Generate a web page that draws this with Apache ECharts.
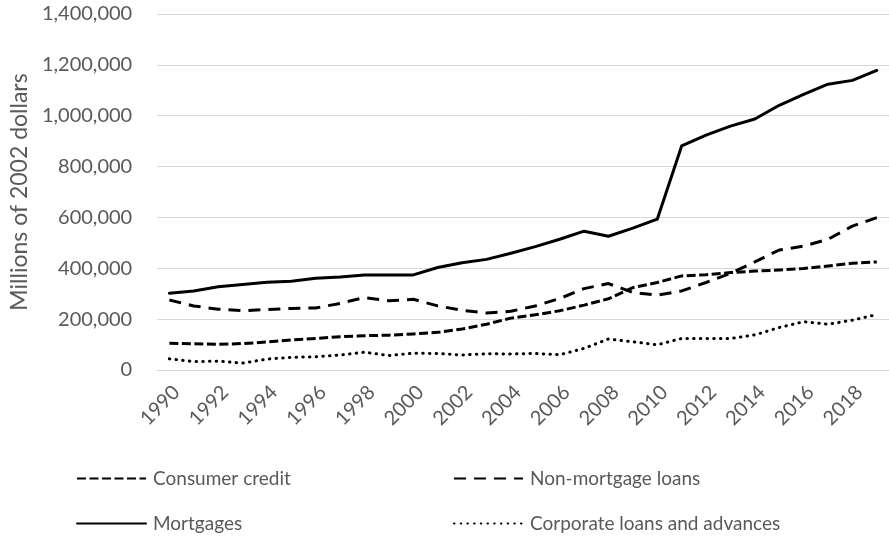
<!DOCTYPE html>
<html>
<head>
<meta charset="utf-8">
<script src="https://cdn.jsdelivr.net/npm/echarts@6/dist/echarts.min.js"></script>
<style>
  html, body { margin: 0; padding: 0; background: #fff; }
  #chart { width: 889px; height: 540px; }
</style>
</head>
<body>
<div id="chart"></div>
<script>
// Household and corporate borrowing, millions of 2002 dollars
const years = ['1990','1991','1992','1993','1994','1995','1996','1997','1998','1999',
               '2000','2001','2002','2003','2004','2005','2006','2007','2008','2009',
               '2010','2011','2012','2013','2014','2015','2016','2017','2018','2019'];

const consumerCredit = [105000,103000,101000,104000,110000,118000,124000,131000,135000,137000,
                        142000,148000,161000,180000,204000,217000,233000,255000,280000,324000,
                        344000,370000,375000,383000,389000,393000,399000,409000,420000,425000];

const nonMortgageLoans = [275000,252000,239000,233000,238000,242000,244000,262000,285000,272000,
                          278000,252000,235000,224000,231000,252000,281000,320000,340000,305000,
                          294000,311000,344000,380000,425000,472000,487000,514000,566000,599000];

const mortgages = [302000,311000,327000,336000,345000,349000,361000,366000,374000,374000,
                   374000,403000,422000,435000,459000,485000,514000,546000,526000,558000,
                   593000,881000,924000,959000,987000,1041000,1084000,1124000,1139000,1178000];

const corporateLoans = [44000,33000,35000,27000,43000,50000,52000,59000,70000,57000,
                        66000,65000,59000,64000,63000,65000,60000,85000,122000,111000,
                        99000,124000,124000,124000,138000,167000,190000,180000,196000,218000];

const FONT = 'Lato';
const GREY = '#595959';

function lineSeries(name, data, type, cap) {
  return {
    name: name,
    type: 'line',
    data: data,
    symbol: 'none',
    smooth: false,
    lineStyle: { color: '#000', width: 3, type: type, cap: cap || 'butt', join: 'round' },
    itemStyle: { color: '#000' }
  };
}

// one legend block per entry, laid out as a 2 x 2 table
function legendAt(name, left, top) {
  return {
    data: [name],
    left: left,
    top: top,
    itemWidth: 69,
    itemHeight: 14,
    itemGap: 0,
    padding: 0,
    selectedMode: false,
    itemStyle: { opacity: 0 },
    textStyle: { fontFamily: FONT, fontSize: 19, color: GREY, padding: [0, 0, 0, 2] }
  };
}

const chart = echarts.init(document.getElementById('chart'), null, { renderer: 'canvas' });
chart.setOption({
  animation: false,
  backgroundColor: '#fff',
  textStyle: { fontFamily: FONT },
  grid: { left: 157, right: 0, top: 14, bottom: 170, containLabel: false },
  legend: [
    legendAt('Consumer credit', 76, 469),
    legendAt('Non-mortgage loans', 453, 469),
    legendAt('Mortgages', 76, 514),
    legendAt('Corporate loans and advances', 453, 514)
  ],
  xAxis: {
    type: 'category',
    data: years,
    boundaryGap: true,
    axisLine: { show: true, lineStyle: { color: '#d9d9d9', width: 1 } },
    axisTick: { show: false },
    axisLabel: {
      interval: 1,
      rotate: 45,
      margin: 12,
      verticalAlign: 'top',
      fontFamily: FONT,
      fontSize: 20,
      color: GREY
    },
    splitLine: { show: false }
  },
  yAxis: {
    type: 'value',
    min: 0,
    max: 1400000,
    interval: 200000,
    name: 'Millions of 2002 dollars',
    nameLocation: 'middle',
    nameRotate: 90,
    nameGap: 126,
    nameTextStyle: { fontFamily: FONT, fontSize: 23, color: GREY },
    axisLine: { show: false },
    axisTick: { show: false },
    axisLabel: {
      margin: 25,
      fontFamily: FONT,
      fontSize: 20,
      color: GREY,
      formatter: v => v.toLocaleString('en-US')
    },
    splitLine: { lineStyle: { color: '#d9d9d9', width: 1 } }
  },
  series: [
    lineSeries('Consumer credit', consumerCredit, [9, 3.5], 'butt'),
    lineSeries('Non-mortgage loans', nonMortgageLoans, [12, 8], 'butt'),
    lineSeries('Mortgages', mortgages, 'solid', 'round'),
    lineSeries('Corporate loans and advances', corporateLoans, [0.5, 6.2], 'round')
  ]
});
</script>
</body>
</html>
